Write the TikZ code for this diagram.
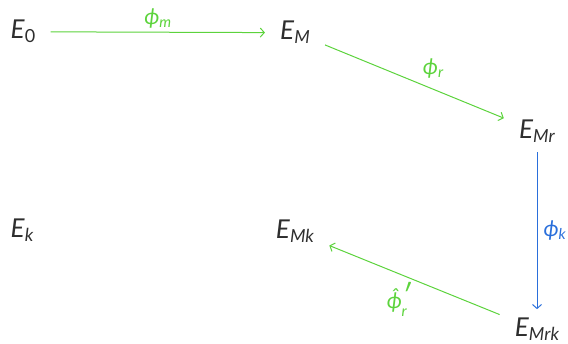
\documentclass[tikz,border=0pt]{standalone}
\usepackage{fontspec}
\setmainfont{Lato}
\usetikzlibrary{arrows.meta}
\definecolor{mapgreen}{HTML}{5CD33C}
\definecolor{mapblue}{HTML}{2A6FDB}
\definecolor{entgray}{HTML}{2E2E2E}
% an entry E with a lowered subscript, a map name with a lowered subscript
\newcommand{\ent}[1]{\textit{E}\raisebox{-4pt}{\fontsize{18}{18}\selectfont #1}}
\newcommand{\mapname}[2]{\textit{#1}\raisebox{-3pt}{\fontsize{15}{15}\selectfont\textit{#2}}}
\begin{document}
\begin{tikzpicture}[x=1pt, y=-1pt,
  every node/.style={anchor=base, inner xsep=15pt, inner ysep=9pt, text=entgray, font=\fontsize{26}{30}\selectfont},
  map/.style={draw=mapgreen, line width=1pt, -{Straight Barb[length=4pt, width=9pt]}},
  lab/.style={inner sep=3pt, anchor=center, font=\fontsize{22}{24}\selectfont}]
\useasboundingbox (0,0) rectangle (568,344);
\node (e0) at (23,39) {\ent{0}};
\node (em) at (295,40) {\ent{\textit{M}}};
\node (emr) at (537,139) {\ent{\textit{Mr}}};
\node (ek) at (22,238) {\ent{\textit{k}}};
\node (emk) at (295,239) {\ent{\textit{Mk}}};
\node (emrk) at (537,337) {\ent{\textit{Mrk}}};
\draw[map] (e0) -- node[lab, text=mapgreen, above] {\mapname{ϕ}{m}} (em);
\draw[map] (em) -- node[lab, text=mapgreen, above right, inner sep=1pt, xshift=7pt, yshift=2pt] {\mapname{ϕ}{r}} (emr);
\draw[map, draw=mapblue] (emr) -- node[lab, text=mapblue, right, inner sep=6pt] {\mapname{ϕ}{k}} (emrk);
\draw[map] (emrk) -- node[lab, text=mapgreen, below left, inner sep=0pt, xshift=-7pt, yshift=-2pt] {\textit{\^{ϕ}}\kern-1pt\makebox[0pt][l]{\raisebox{2pt}{\fontsize{30}{30}\selectfont\textit{′}}}\raisebox{-8pt}{\fontsize{15}{15}\selectfont\textit{r}}} (emk);
\end{tikzpicture}
\end{document}
